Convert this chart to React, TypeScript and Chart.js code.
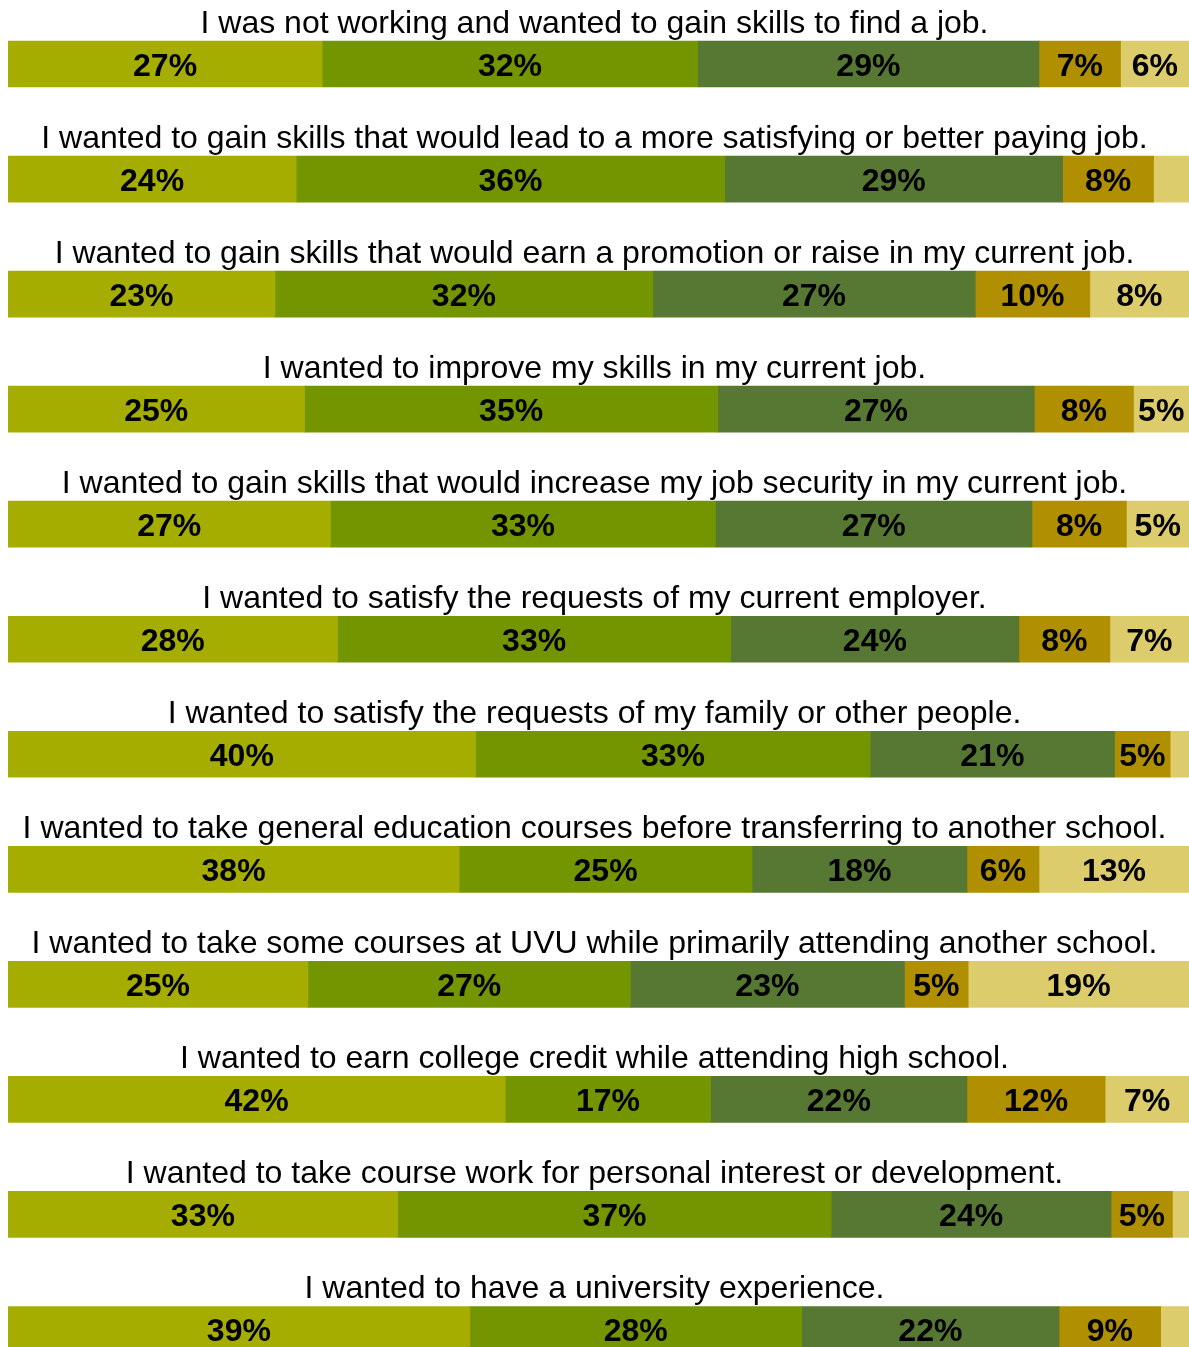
import React, { useEffect, useRef } from "react";
import { Chart, registerables } from "chart.js";

Chart.register(...registerables);

const categories = [
  "I was not working and wanted to gain skills to find a job.",
  "I wanted to gain skills that would lead to a more satisfying or better paying job.",
  "I wanted to gain skills that would earn a promotion or raise in my current job.",
  "I wanted to improve my skills in my current job.",
  "I wanted to gain skills that would increase my job security in my current job.",
  "I wanted to satisfy the requests of my current employer.",
  "I wanted to satisfy the requests of my family or other people.",
  "I wanted to take general education courses before transferring to another school.",
  "I wanted to take some courses at UVU while primarily attending another school.",
  "I wanted to earn college credit while attending high school.",
  "I wanted to take course work for personal interest or development.",
  "I wanted to have a university experience.",
];

const seg1 = [26.6, 24.4, 22.6, 25.1, 27.3, 27.9, 39.6, 38.2, 25.4, 42.1, 33.0, 39.1];
const seg2 = [31.8, 36.3, 32.0, 35.0, 32.6, 33.3, 33.4, 24.8, 27.3, 17.4, 36.7, 28.1];
const seg3 = [28.9, 28.6, 27.3, 26.8, 26.8, 24.4, 20.7, 18.2, 23.2, 21.7, 23.7, 21.8];
const seg4 = [6.9, 7.7, 9.7, 8.4, 8.0, 7.7, 4.7, 6.1, 5.4, 11.7, 5.2, 8.6];
const seg5 = [5.8, 3.0, 8.4, 4.7, 5.3, 6.7, 1.6, 12.7, 18.7, 7.1, 1.4, 2.4];

const seriesNames = ["Very important", "Important", "Somewhat important", "Not very important", "Not important"];
const seriesColors = ["#A4AD00", "#739600", "#567832", "#B08F00", "#DDCC6B"];

const FONT = 'Arial, "Liberation Sans", sans-serif';

const labelPlugin = {
  id: "rowTitlesAndLabels",
  afterDatasetsDraw(chart: any) {
    const ctx = chart.ctx;
    const area = chart.chartArea;
    ctx.save();
    // row titles above each bar
    const meta0 = chart.getDatasetMeta(0);
    ctx.font = `32px ${FONT}`;
    ctx.fillStyle = "#000";
    ctx.textAlign = "center";
    ctx.textBaseline = "alphabetic";
    const cx = (area.left + area.right) / 2 - 4;
    meta0.data.forEach((bar: any, i: number) => {
      const top = bar.y - bar.height / 2;
      ctx.fillText(categories[i], cx, top - 8.5);
    });
    // value labels
    ctx.font = `bold 32px ${FONT}`;
    chart.data.datasets.forEach((ds: any, di: number) => {
      const meta = chart.getDatasetMeta(di);
      meta.data.forEach((bar: any, i: number) => {
        const v = ds.data[i];
        if (v < 4) return;
        const x = (bar.x + bar.base) / 2;
        ctx.fillText(Math.round(v) + "%", x, bar.y + 11.5);
      });
    });
    ctx.restore();
  },
};

export default function App() {
  const ref = useRef<HTMLCanvasElement | null>(null);
  useEffect(() => {
    if (!ref.current) return;
    const allSeries = [seg1, seg2, seg3, seg4, seg5];
    const chart = new Chart(ref.current, {
      type: "bar",
      data: {
        labels: categories,
        datasets: allSeries.map((d, i) => ({
          label: seriesNames[i],
          data: d,
          backgroundColor: seriesColors[i],
          borderWidth: 0,
          barThickness: 46,
        })),
      },
      options: {
        indexAxis: "y",
        responsive: false,
        animation: false,
        layout: { padding: { top: 6.5, bottom: 0, left: 0, right: 0 } },
        scales: {
          x: { stacked: true, min: 0, max: 100, display: false },
          y: { stacked: true, display: false },
        },
        plugins: {
          legend: { display: false },
          tooltip: { enabled: false },
        },
      },
      plugins: [labelPlugin],
    });
    return () => chart.destroy();
  }, []);
  return (
    <div
      style={{
        position: "fixed",
        left: 0,
        top: 0,
        width: 1189,
        height: 1347,
        overflow: "hidden",
        background: "#fff",
      }}
    >
      <canvas
        ref={ref}
        width={1181}
        height={1387}
        style={{ position: "absolute", left: 8, top: 0, width: 1181, height: 1387 }}
      />
    </div>
  );
}
